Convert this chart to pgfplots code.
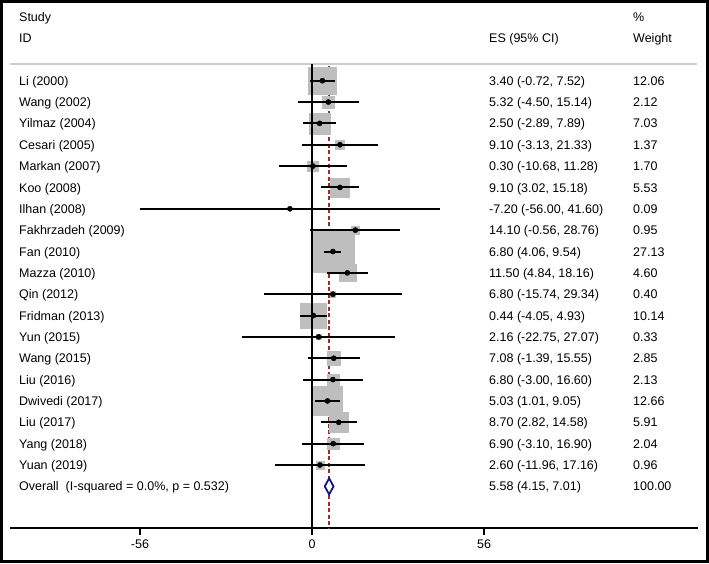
\documentclass[border=0pt]{standalone}
\usepackage{pgfplots}
\pgfplotsset{compat=1.18}
\usepackage{pgfplotstable}
\usepackage{fontspec}
\setmainfont{Liberation Sans}
\definecolor{boxgray}{RGB}{190,190,190}
\definecolor{sepgray}{RGB}{205,205,205}
\definecolor{dashred}{RGB}{165,40,40}
\definecolor{dnavy}{RGB}{20,20,140}
\pgfplotstableread{
i es lo hi w
0 3.40 -0.72 7.52 12.06
1 5.32 -4.50 15.14 2.12
2 2.50 -2.89 7.89 7.03
3 9.10 -3.13 21.33 1.37
4 0.30 -10.68 11.28 1.70
5 9.10 3.02 15.18 5.53
6 -7.20 -56.00 41.60 0.09
7 14.10 -0.56 28.76 0.95
8 6.80 4.06 9.54 27.13
9 11.50 4.84 18.16 4.60
10 6.80 -15.74 29.34 0.40
11 0.44 -4.05 4.93 10.14
12 2.16 -22.75 27.07 0.33
13 7.08 -1.39 15.55 2.85
14 6.80 -3.00 16.60 2.13
15 5.03 1.01 9.05 12.66
16 8.70 2.82 14.58 5.91
17 6.90 -3.10 16.90 2.04
18 2.60 -11.96 17.16 0.96
}\studies
\newcommand{\rowy}[1]{\fpeval{-80.7-21.35*#1}}
\tikzset{lab/.style={anchor=base west, inner sep=0pt, yshift=-4.6bp}}
\begin{document}
\begin{tikzpicture}[font=\fontsize{12.5bp}{15bp}\selectfont]
\begin{axis}[
  set layers=standard,
  scale only axis, width=688bp, height=518bp,
  xmin=-98.33, xmax=125.67, ymin=-528, ymax=-10,
  axis x line=bottom, axis y line=none,
  axis line style={-, line width=1.2bp, black},
  every outer x axis line/.append style={-},
  xtick={-56,0,56}, xticklabels={-56,0,56},
  tick align=outside, major tick length=7bp,
  tick style={black, line width=1.2bp},
  x tick label style={font=\fontsize{12.5bp}{15bp}\selectfont, yshift=-1bp},
  clip=false, clip marker paths=true,
]
% separator
\addplot[on layer=pre main, sepgray, line width=1.5bp] coordinates {(-98.33,-64) (125.3,-64)};
% overall dashed line
\addplot[on layer=pre main, dashred, line width=1.4bp, dash pattern=on 4bp off 2.5bp] coordinates {(5.58,-66) (5.58,-528)};
% weight boxes
\addplot[on layer=main, scatter, only marks, mark=square*,
  scatter/use mapped color={draw=boxgray, fill=boxgray},
  visualization depends on={21*sqrt(\thisrow{w}/27.13) \as \bs},
  scatter/@pre marker code/.append style={/tikz/mark size=\bs}]
  table[x=es, y expr=-80.7-21.35*\thisrow{i}] {\studies};
% zero line
\addplot[on layer=axis descriptions, black, line width=1.2bp] coordinates {(0,-64) (0,-528)};
% CI lines and point estimates
\addplot[on layer=axis descriptions, only marks, mark=*, mark size=2.6bp, black,
  error bars/.cd, x dir=both, x explicit, error mark=none,
  error bar style={line width=2bp, black}]
  table[x=es, y expr=-80.7-21.35*\thisrow{i},
        x error plus expr=\thisrow{hi}-\thisrow{es},
        x error minus expr=\thisrow{es}-\thisrow{lo}] {\studies};
% overall diamond
\addplot[on layer=axis foreground, dnavy, line width=1.8bp, fill=white] coordinates {(4.15,-486.35) (5.58,-478.35) (7.01,-486.35) (5.58,-494.35)} -- cycle;
% frame
\draw[line width=3bp] (axis cs:-101.09,-1.5) rectangle (axis cs:128.76,-561.5);
% headers
\node[lab] at (axis cs:-95.4,-17.3) {Study};
\node[lab] at (axis cs:-95.4,-38.3) {ID};
\node[lab] at (axis cs:57.63,-38.3) {ES (95\% CI)};
\node[lab] at (axis cs:104.51,-17.3) {\%};
\node[lab] at (axis cs:104.51,-38.3) {Weight};
% study labels
\node[lab] at (axis cs:-95.4,\rowy{0}) {Li (2000)};
\node[lab] at (axis cs:-95.4,\rowy{1}) {Wang (2002)};
\node[lab] at (axis cs:-95.4,\rowy{2}) {Yilmaz (2004)};
\node[lab] at (axis cs:-95.4,\rowy{3}) {Cesari (2005)};
\node[lab] at (axis cs:-95.4,\rowy{4}) {Markan (2007)};
\node[lab] at (axis cs:-95.4,\rowy{5}) {Koo (2008)};
\node[lab] at (axis cs:-95.4,\rowy{6}) {Ilhan (2008)};
\node[lab] at (axis cs:-95.4,\rowy{7}) {Fakhrzadeh (2009)};
\node[lab] at (axis cs:-95.4,\rowy{8}) {Fan (2010)};
\node[lab] at (axis cs:-95.4,\rowy{9}) {Mazza (2010)};
\node[lab] at (axis cs:-95.4,\rowy{10}) {Qin (2012)};
\node[lab] at (axis cs:-95.4,\rowy{11}) {Fridman (2013)};
\node[lab] at (axis cs:-95.4,\rowy{12}) {Yun (2015)};
\node[lab] at (axis cs:-95.4,\rowy{13}) {Wang (2015)};
\node[lab] at (axis cs:-95.4,\rowy{14}) {Liu (2016)};
\node[lab] at (axis cs:-95.4,\rowy{15}) {Dwivedi (2017)};
\node[lab] at (axis cs:-95.4,\rowy{16}) {Liu (2017)};
\node[lab] at (axis cs:-95.4,\rowy{17}) {Yang (2018)};
\node[lab] at (axis cs:-95.4,\rowy{18}) {Yuan (2019)};
\node[lab] at (axis cs:-95.4,\rowy{19}) {Overall\ \ (I-squared = 0.0\%, p = 0.532)};
% ES column
\node[lab] at (axis cs:57.63,\rowy{0}) {3.40 (-0.72, 7.52)};
\node[lab] at (axis cs:57.63,\rowy{1}) {5.32 (-4.50, 15.14)};
\node[lab] at (axis cs:57.63,\rowy{2}) {2.50 (-2.89, 7.89)};
\node[lab] at (axis cs:57.63,\rowy{3}) {9.10 (-3.13, 21.33)};
\node[lab] at (axis cs:57.63,\rowy{4}) {0.30 (-10.68, 11.28)};
\node[lab] at (axis cs:57.63,\rowy{5}) {9.10 (3.02, 15.18)};
\node[lab] at (axis cs:57.63,\rowy{6}) {-7.20 (-56.00, 41.60)};
\node[lab] at (axis cs:57.63,\rowy{7}) {14.10 (-0.56, 28.76)};
\node[lab] at (axis cs:57.63,\rowy{8}) {6.80 (4.06, 9.54)};
\node[lab] at (axis cs:57.63,\rowy{9}) {11.50 (4.84, 18.16)};
\node[lab] at (axis cs:57.63,\rowy{10}) {6.80 (-15.74, 29.34)};
\node[lab] at (axis cs:57.63,\rowy{11}) {0.44 (-4.05, 4.93)};
\node[lab] at (axis cs:57.63,\rowy{12}) {2.16 (-22.75, 27.07)};
\node[lab] at (axis cs:57.63,\rowy{13}) {7.08 (-1.39, 15.55)};
\node[lab] at (axis cs:57.63,\rowy{14}) {6.80 (-3.00, 16.60)};
\node[lab] at (axis cs:57.63,\rowy{15}) {5.03 (1.01, 9.05)};
\node[lab] at (axis cs:57.63,\rowy{16}) {8.70 (2.82, 14.58)};
\node[lab] at (axis cs:57.63,\rowy{17}) {6.90 (-3.10, 16.90)};
\node[lab] at (axis cs:57.63,\rowy{18}) {2.60 (-11.96, 17.16)};
\node[lab] at (axis cs:57.63,\rowy{19}) {5.58 (4.15, 7.01)};
% weight column
\node[lab] at (axis cs:104.51,\rowy{0}) {12.06};
\node[lab] at (axis cs:104.51,\rowy{1}) {2.12};
\node[lab] at (axis cs:104.51,\rowy{2}) {7.03};
\node[lab] at (axis cs:104.51,\rowy{3}) {1.37};
\node[lab] at (axis cs:104.51,\rowy{4}) {1.70};
\node[lab] at (axis cs:104.51,\rowy{5}) {5.53};
\node[lab] at (axis cs:104.51,\rowy{6}) {0.09};
\node[lab] at (axis cs:104.51,\rowy{7}) {0.95};
\node[lab] at (axis cs:104.51,\rowy{8}) {27.13};
\node[lab] at (axis cs:104.51,\rowy{9}) {4.60};
\node[lab] at (axis cs:104.51,\rowy{10}) {0.40};
\node[lab] at (axis cs:104.51,\rowy{11}) {10.14};
\node[lab] at (axis cs:104.51,\rowy{12}) {0.33};
\node[lab] at (axis cs:104.51,\rowy{13}) {2.85};
\node[lab] at (axis cs:104.51,\rowy{14}) {2.13};
\node[lab] at (axis cs:104.51,\rowy{15}) {12.66};
\node[lab] at (axis cs:104.51,\rowy{16}) {5.91};
\node[lab] at (axis cs:104.51,\rowy{17}) {2.04};
\node[lab] at (axis cs:104.51,\rowy{18}) {0.96};
\node[lab] at (axis cs:104.51,\rowy{19}) {100.00};
\end{axis}
\end{tikzpicture}
\end{document}
